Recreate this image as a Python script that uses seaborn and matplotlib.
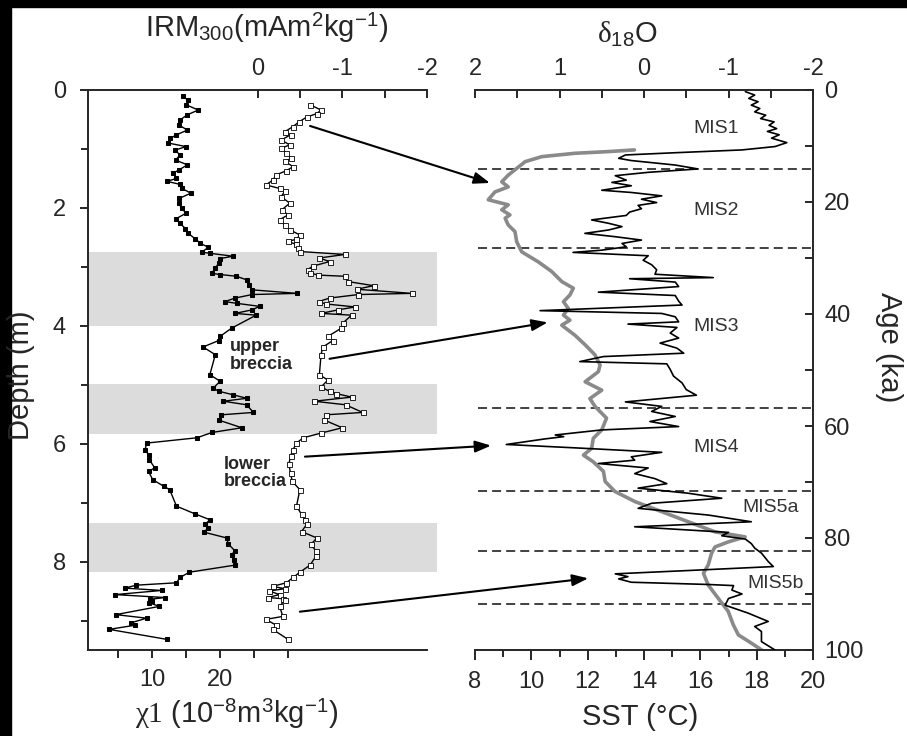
import matplotlib
matplotlib.use("Agg")
import matplotlib.pyplot as plt
from matplotlib.patches import ConnectionPatch, Rectangle
from matplotlib.ticker import FixedLocator, MultipleLocator
import seaborn as sns

# ---- left panel: magnetic records vs depth ----
chi_depth = [0.11, 0.17, 0.25, 0.34, 0.42, 0.51, 0.59, 0.68, 0.76, 0.82, 0.90, 0.96, 1.02, 1.10,
             1.19, 1.27, 1.36, 1.41, 1.50, 1.55, 1.60, 1.67, 1.75, 1.84, 1.92, 2.01, 2.09, 2.18,
             2.26, 2.35, 2.43, 2.52, 2.60, 2.67, 2.75, 2.77, 2.82, 2.86, 2.94, 3.02, 3.11, 3.13,
             3.16, 3.22, 3.30, 3.39, 3.45, 3.47, 3.53, 3.59, 3.62, 3.67, 3.73, 3.79, 3.82, 4.04,
             4.18, 4.25, 4.36, 4.49, 4.83, 4.94, 5.06, 5.11, 5.17, 5.23, 5.28, 5.34, 5.47, 5.51,
             5.60, 5.73, 5.81, 5.90, 5.99, 6.10, 6.19, 6.27, 6.41, 6.47, 6.61, 6.72, 6.78, 7.06,
             7.19, 7.29, 7.37, 7.43, 7.50, 7.60, 7.70, 7.82, 7.88, 7.98, 8.06, 8.18, 8.27, 8.36,
             8.40, 8.45, 8.49, 8.56, 8.61, 8.64, 8.67, 8.70, 8.76, 8.90, 8.96, 9.04, 9.08, 9.15,
             9.32]
chi_value = [14.5, 15.3, 15.0, 16.8, 15.2, 14.1, 13.9, 15.2, 13.6, 12.7, 12.4, 15.0, 13.4, 14.1,
             13.5, 15.2, 13.9, 13.1, 13.6, 12.2, 14.1, 14.4, 15.7, 14.0, 13.9, 14.4, 15.0, 13.6,
             14.1, 14.9, 15.3, 16.3, 17.1, 18.3, 17.3, 18.5, 21.9, 20.0, 19.8, 19.3, 18.8, 20.0,
             22.4, 23.9, 24.2, 24.7, 31.3, 24.7, 22.2, 20.7, 22.5, 25.8, 24.7, 22.2, 25.3, 21.7,
             20.0, 19.8, 17.5, 19.3, 18.5, 20.0, 19.0, 19.8, 21.9, 23.9, 20.5, 23.9, 24.9, 20.2,
             19.8, 23.2, 18.8, 16.6, 9.2, 9.0, 9.5, 9.6, 10.4, 9.5, 10.1, 11.7, 12.6, 13.6,
             16.3, 18.5, 17.8, 18.3, 17.6, 21.0, 21.2, 22.2, 21.7, 22.0, 22.2, 15.5, 14.1, 13.6,
             7.7, 6.0, 11.4, 4.6, 11.9, 9.7, 10.0, 9.6, 11.1, 4.7, 9.2, 6.9, 7.5, 3.7,
             12.2]

irm_depth = [0.25, 0.34, 0.40, 0.46, 0.54, 0.62, 0.71, 0.76, 0.85, 0.93, 0.99, 1.07, 1.16, 1.21,
             1.30, 1.37, 1.44, 1.53, 1.61, 1.67, 1.72, 1.81, 1.92, 2.03, 2.12, 2.20, 2.29, 2.37,
             2.46, 2.53, 2.57, 2.62, 2.68, 2.74, 2.79, 2.85, 2.91, 2.99, 3.05, 3.10, 3.14, 3.16,
             3.25, 3.32, 3.38, 3.45, 3.47, 3.53, 3.59, 3.63, 3.68, 3.73, 3.79, 3.82, 3.95, 4.04,
             4.18, 4.25, 4.36, 4.49, 4.83, 4.92, 5.04, 5.11, 5.15, 5.21, 5.28, 5.34, 5.47, 5.51,
             5.60, 5.73, 5.82, 5.90, 5.99, 6.10, 6.21, 6.35, 6.50, 6.64, 6.78, 7.06, 7.20, 7.29,
             7.37, 7.49, 7.60, 7.71, 7.82, 7.91, 8.06, 8.18, 8.27, 8.36, 8.42, 8.46, 8.50, 8.56,
             8.61, 8.63, 8.66, 8.76, 8.93, 8.98, 9.08, 9.15, 9.32]
irm_value = [-0.62, -0.75, -0.70, -0.58, -0.49, -0.42, -0.32, -0.39, -0.28, -0.38, -0.28, -0.34,
             -0.40, -0.32, -0.42, -0.34, -0.22, -0.18, -0.10, -0.26, -0.32, -0.28, -0.38, -0.29,
             -0.36, -0.26, -0.32, -0.38, -0.50, -0.46, -0.36, -0.46, -0.48, -0.50, -1.03, -0.73,
             -0.85, -0.65, -0.59, -0.62, -0.71, -1.03, -1.07, -1.37, -1.17, -1.82, -1.19, -0.85,
             -0.72, -0.81, -1.15, -0.95, -0.75, -1.11, -1.01, -0.99, -0.83, -0.89, -0.77, -0.75,
             -0.73, -0.83, -0.75, -0.85, -0.93, -1.11, -0.67, -1.04, -1.24, -0.81, -0.79, -1.00,
             -0.75, -0.54, -0.46, -0.42, -0.39, -0.37, -0.39, -0.41, -0.50, -0.46, -0.52, -0.56,
             -0.58, -0.52, -0.70, -0.63, -0.69, -0.69, -0.62, -0.50, -0.42, -0.34, -0.18, -0.32,
             -0.14, -0.26, -0.12, -0.30, -0.32, -0.26, -0.30, -0.10, -0.22, -0.18, -0.36]

breccia_bands = [(2.75, 4.0), (4.98, 5.83), (7.34, 8.17)]

# ---- right panel: climate records vs age ----
d18o_age = [0.3, 0.9, 1.5, 2.1, 2.7, 3.3, 3.9, 4.5, 5.1, 5.7, 6.3, 6.9, 7.4, 8.0, 8.6, 9.4, 10.1,
            10.7, 11.2, 11.6, 12.2, 12.6, 13.4, 14.1, 14.7, 15.3, 16.1, 16.5, 17.1, 17.9, 18.3,
            18.9, 19.5, 20.1, 20.6, 21.2, 21.8, 22.4, 23.2, 23.8, 24.4, 25.0, 25.6, 26.2, 26.8,
            27.4, 28.0, 28.6, 29.0, 29.6, 30.4, 31.2, 32.1, 32.9, 33.5, 33.7, 34.3, 35.1, 36.1,
            36.7, 37.7, 38.4, 39.4, 39.9, 40.5, 41.4, 41.8, 42.4, 43.4, 44.3, 45.2, 46.1, 47.0,
            47.6, 48.5, 48.9, 49.9, 51.1, 52.3, 53.5, 54.5, 55.7, 56.5, 57.4, 58.3, 59.2, 60.1,
            60.7, 61.6, 61.9, 62.3, 63.3, 63.9, 64.7, 65.5, 66.1, 66.7, 67.5, 68.5, 69.4, 70.3,
            71.1, 72.0, 72.9, 73.8, 74.7, 75.9, 77.1, 78.0, 78.6, 79.0, 79.6, 80.2, 81.0, 81.8,
            82.7, 84.2, 85.1, 85.7, 86.4, 86.9, 87.3, 87.9, 88.3, 88.5, 89.3, 90.0, 90.8, 92.0,
            93.4, 94.9, 95.8, 96.7, 98.5, 100.0]
d18o_value = [-1.20, -1.31, -1.24, -1.35, -1.27, -1.37, -1.31, -1.44, -1.38, -1.54, -1.48, -1.57,
              -1.46, -1.60, -1.51, -1.69, -1.55, -1.16, -0.37, 0.22, 0.30, 0.15, -0.37, -0.64,
              -0.05, 0.34, 0.21, 0.38, 0.15, 0.50, 0.15, -0.21, 0.03, -0.15, 0.07, 0.03, 0.17,
              0.21, 0.62, 0.42, 0.26, 0.42, 0.70, 0.34, 0.03, 0.26, 0.21, 0.50, 0.84, -0.05, 0.01,
              -0.09, -0.15, -0.13, -0.82, 0.17, -0.37, -0.41, 0.54, -0.37, -0.41, -0.45, 1.23,
              -0.21, -0.37, -0.41, 0.19, -0.39, -0.31, -0.41, -0.19, -0.39, -0.47, 0.48, 0.76,
              -0.27, -0.31, -0.35, -0.45, -0.50, -0.62, 0.22, -0.21, -0.09, -0.37, -0.07, -0.41,
              0.50, 1.05, 0.95, 1.17, 1.63, 0.82, -0.21, 0.15, 0.11, 0.54, -0.05, 0.11, -0.13,
              -0.27, 0.07, -0.52, -0.92, -0.09, 0.07, -0.76, -1.27, 0.11, -0.56, -1.00, -0.92,
              -1.20, -1.27, -1.31, -1.39, -1.47, -1.53, -0.68, 0.34, 0.19, 0.30, 0.15, -0.76,
              -1.06, -1.04, -1.16, -1.00, -0.96, -1.23, -1.47, -1.31, -1.39, -1.39, -1.55]

sst_age = [10.7, 11.0, 11.3, 11.9, 12.8, 14.0, 15.2, 16.4, 17.3, 18.2, 19.6, 20.5, 21.4, 22.3,
           22.9, 24.1, 25.3, 27.1, 28.9, 30.7, 32.4, 34.2, 35.4, 36.6, 37.8, 39.0, 40.2, 41.1,
           42.0, 43.8, 45.5, 47.3, 49.1, 50.3, 52.1, 53.6, 55.1, 56.5, 58.6, 60.7, 62.2, 64.0,
           65.2, 66.4, 68.1, 69.9, 71.7, 73.5, 75.3, 77.1, 78.9, 79.8, 80.7, 81.6, 82.7, 84.8,
           86.3, 88.4, 90.8, 93.1, 95.5, 97.3, 98.8, 100.0]
sst_value = [13.66, 12.73, 11.55, 10.37, 9.78, 9.48, 9.18, 8.95, 9.18, 8.71, 8.47, 9.18, 8.95,
             9.24, 9.07, 9.18, 9.42, 9.48, 9.66, 10.25, 10.72, 11.08, 11.49, 11.37, 11.14, 11.31,
             11.14, 11.37, 11.08, 11.55, 11.91, 12.26, 12.44, 12.38, 11.91, 12.50, 12.08, 12.26,
             12.67, 12.50, 12.20, 12.14, 11.85, 12.20, 12.56, 12.62, 12.97, 13.68, 14.63, 15.57,
             16.52, 17.59, 16.99, 16.52, 16.40, 16.28, 16.11, 16.28, 16.64, 16.99, 17.17, 17.35,
             17.82, 18.18]

mis_bounds = [14.1, 28.3, 56.7, 71.6, 82.4, 91.7]
mis_labels = ["MIS1", "MIS2", "MIS3", "MIS4", "MIS5a", "MIS5b"]
mis_label_sst = [15.74, 15.74, 15.74, 15.74, 17.48, 17.66]
mis_label_age = [6.8, 21.6, 42.3, 63.9, 74.6, 88.2]

# arrows: (IRM, depth) on the left -> (SST, age) on the right
arrow_irm = [-0.62, -0.85, -0.56, -0.50]
arrow_depth = [0.61, 4.56, 6.22, 8.85]
arrow_sst = [8.53, 10.58, 8.57, 12.02]
arrow_age = [16.6, 41.5, 63.5, 87.2]

sns.set_style("ticks")
plt.rcParams["font.family"] = ["Liberation Sans", "DejaVu Sans"]
plt.rcParams["mathtext.fontset"] = "custom"
plt.rcParams["mathtext.rm"] = "Liberation Sans"
plt.rcParams["mathtext.it"] = "Liberation Serif"
plt.rcParams["mathtext.cal"] = "Liberation Serif"
plt.rcParams["axes.unicode_minus"] = False
plt.rcParams["axes.linewidth"] = 1.4

W, H = 907, 736
fig = plt.figure(figsize=(W / 100, H / 100), dpi=100)
fig.patches.append(Rectangle((0, 0), 11 / W, 1, transform=fig.transFigure, color="black", zorder=-1))
fig.patches.append(Rectangle((0, 1 - 7 / H), 1, 7 / H, transform=fig.transFigure, color="black", zorder=-1))

TICK = 17
LABEL = 21

# left panel
ax_chi = fig.add_axes([88 / W, 1 - 650 / H, 339 / W, 560 / H])
for top, bottom in breccia_bands:
    span = ax_chi.axhspan(top, bottom, xmin=0, xmax=1.03, color="#dcdcdc", lw=0, zorder=0)
    span.set_clip_on(False)
sns.lineplot(x=chi_value, y=chi_depth, sort=False, estimator=None, color="black", lw=1.0,
             marker="s", markersize=3, markeredgecolor="black", ax=ax_chi)
ax_chi.set_xlim(0.6, 50.4)
ax_chi.set_ylim(9.5, 0)
ax_chi.xaxis.set_major_locator(FixedLocator([5, 10, 15, 20, 25, 30]))
ax_chi.set_xticklabels(["", "10", "", "20", "", ""])
ax_chi.yaxis.set_major_locator(MultipleLocator(2))
ax_chi.yaxis.set_minor_locator(MultipleLocator(1))
ax_chi.tick_params(axis="both", which="both", direction="out", width=1.4, labelsize=TICK)
ax_chi.tick_params(axis="x", which="major", length=6, pad=8)
ax_chi.tick_params(axis="y", which="major", length=6, pad=10)
ax_chi.tick_params(axis="y", which="minor", length=5)
ax_chi.spines["right"].set_visible(False)
ax_chi.spines["top"].set_visible(False)
ax_chi.set_ylabel("Depth (m)", fontsize=LABEL)
ax_chi.yaxis.set_label_coords(-0.155, 0.49)
ax_chi.set_xlabel(r"$\chi\mathcal{1}$ (10$^{-8}$m$^{3}$kg$^{-1}$)", fontsize=LABEL)
ax_chi.xaxis.set_label_coords(0.44, -0.085)

ax_irm = ax_chi.twiny()
sns.lineplot(x=irm_value, y=irm_depth, sort=False, estimator=None, color="black", lw=1.0,
             marker="s", markersize=3.6, markerfacecolor="white", markeredgecolor="black",
             markeredgewidth=0.6, ax=ax_irm)
ax_irm.set_xlim(2, -2)
ax_irm.xaxis.set_major_locator(FixedLocator([0, -1, -2]))
ax_irm.xaxis.set_minor_locator(FixedLocator([-0.5, -1.5]))
ax_irm.tick_params(axis="x", which="both", direction="in", length=6, width=1.4,
                   labelsize=TICK, pad=7)
for side in ["left", "right", "bottom"]:
    ax_irm.spines[side].set_visible(False)
ax_irm.set_xlabel(r"IRM$_{300}$(mAm$^{2}$kg$^{-1}$)", fontsize=LABEL)
ax_irm.xaxis.set_label_coords(0.528, 1.095)
ax_chi.text(21.5, 4.5, "upper\nbreccia", fontsize=13, fontweight="bold", ha="left",
            va="center", linespacing=1.05)
ax_chi.text(20.6, 6.5, "lower\nbreccia", fontsize=13, fontweight="bold", ha="left",
            va="center", linespacing=1.05)

# right panel
ax_sst = fig.add_axes([475 / W, 1 - 650 / H, 338 / W, 560 / H])
sns.lineplot(x=sst_value, y=sst_age, sort=False, estimator=None, color="#8a8a8a", lw=2.6,
             ax=ax_sst)
ax_sst.set_xlim(8, 20)
ax_sst.set_ylim(100, 0)
for age in mis_bounds:
    ax_sst.axhline(age, xmin=0.01, color="#333333", lw=1.3, ls=(0, (5, 2.8)), zorder=1)
for label, sx, sa in zip(mis_labels, mis_label_sst, mis_label_age):
    ax_sst.text(sx, sa, label, fontsize=14, color="#333333", ha="left", va="center")
ax_sst.yaxis.tick_right()
ax_sst.yaxis.set_label_position("right")
ax_sst.xaxis.set_major_locator(MultipleLocator(2))
ax_sst.xaxis.set_minor_locator(MultipleLocator(1))
ax_sst.yaxis.set_major_locator(MultipleLocator(20))
ax_sst.yaxis.set_minor_locator(MultipleLocator(10))
ax_sst.tick_params(axis="x", which="both", direction="out", width=1.4, labelsize=TICK, pad=8)
ax_sst.tick_params(axis="x", which="major", length=7)
ax_sst.tick_params(axis="x", which="minor", length=5)
ax_sst.tick_params(axis="y", which="both", direction="in", length=6, width=1.4,
                   labelsize=TICK, pad=8)
ax_sst.spines["left"].set_visible(False)
ax_sst.spines["top"].set_visible(False)
ax_sst.set_xlabel("SST (°C)", fontsize=LABEL)
ax_sst.xaxis.set_label_coords(0.488, -0.095)
ax_sst.set_ylabel("Age (ka)", fontsize=LABEL, rotation=270, va="bottom")
ax_sst.yaxis.set_label_coords(1.183, 0.54)

ax_d18 = ax_sst.twiny()
sns.lineplot(x=d18o_value, y=d18o_age, sort=False, estimator=None, color="black", lw=1.2,
             ax=ax_d18)
ax_d18.set_xlim(2, -2)
ax_d18.xaxis.set_major_locator(MultipleLocator(1))
ax_d18.xaxis.set_minor_locator(MultipleLocator(0.5))
ax_d18.tick_params(axis="x", which="both", direction="in", length=6, width=1.4,
                   labelsize=TICK, pad=7)
for side in ["left", "right", "bottom"]:
    ax_d18.spines[side].set_visible(False)
ax_d18.set_xlabel(r"$\delta_{18}$O", fontsize=LABEL)
ax_d18.xaxis.set_label_coords(0.451, 1.084)

# arrows linking breccia layers with climate events
for irm, depth, sst, age in zip(arrow_irm, arrow_depth, arrow_sst, arrow_age):
    con = ConnectionPatch(xyA=(irm, depth), coordsA=ax_irm.transData,
                          xyB=(sst, age), coordsB=ax_sst.transData,
                          arrowstyle="-|>,head_length=0.6,head_width=0.22",
                          mutation_scale=16, lw=1.5, color="black", zorder=5)
    fig.add_artist(con)

fig.savefig("out.png", dpi=100)
plt.close(fig)
